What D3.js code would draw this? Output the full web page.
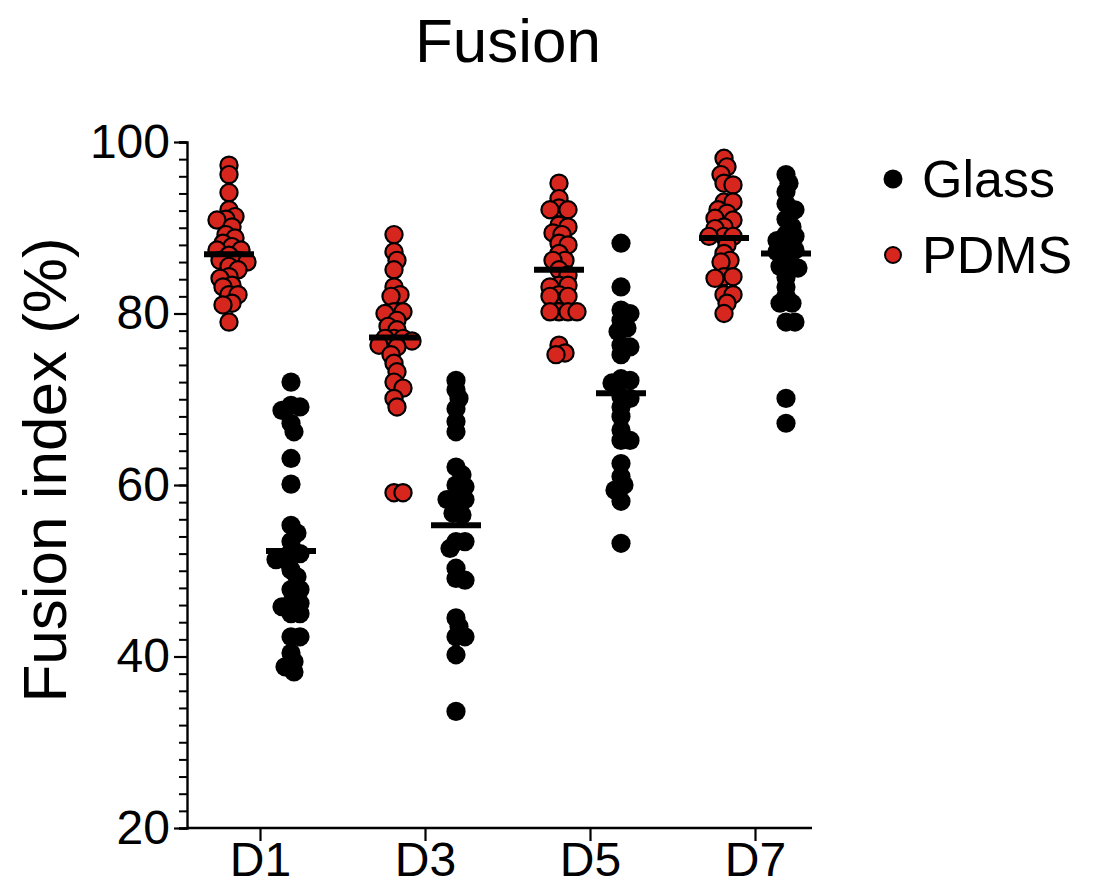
<!DOCTYPE html>
<html>
<head>
<meta charset="utf-8">
<script src="https://cdn.jsdelivr.net/npm/d3@7"></script>
<style>
  html, body { margin: 0; padding: 0; background: #fff; }
  svg { display: block; font-family: "Liberation Sans", Arial, Helvetica, sans-serif; }
</style>
</head>
<body>
<div class="chart"></div>
<script>
// categories / series
const days = ["D1", "D3", "D5", "D7"];
const seriesNames = ["PDMS", "Glass"];
const legendNames = ["Glass", "PDMS"];
const yTicks = [20, 40, 60, 80, 100];

// values (fusion index, %)
const pdmsD1 = [97.3, 96.2, 94.1, 92.1, 91.3, 91.0, 90.1, 90.9, 89.2, 88.8, 88.2, 87.8, 87.4, 87.4, 86.8,
  86.2, 86.2, 86.0, 85.5, 85.1, 84.3, 84.1, 83.1, 83.3, 82.2, 82.2, 81.2, 81.0, 79.0];
const pdmsD3 = [89.2, 87.2, 86.2, 85.1, 83.1, 82.2, 82.0, 80.2, 80.0, 80.2, 78.1, 78.5, 79.2, 77.1, 77.1, 77.1,
  76.8, 76.3, 76.1, 75.2, 74.2, 73.2, 72.0, 71.3, 70.1, 69.1, 59.1, 59.1];
const pdmsD5 = [95.2, 93.4, 92.1, 92.3, 92.1, 90.3, 90.1, 89.2, 89.4, 88.2, 88.0, 87.0, 86.2, 86.2, 85.1,
  84.5, 83.3, 83.3, 83.1, 82.2, 82.0, 82.0, 80.2, 80.2, 80.2, 80.2, 76.3, 75.4, 75.2];
const pdmsD7 = [98.1, 97.1, 96.2, 95.2, 95.0, 93.0, 93.0, 92.1, 91.7, 91.1, 90.9, 89.9, 90.1, 89.0, 89.0, 89.0,
  88.0, 87.0, 86.2, 86.0, 84.3, 84.1, 84.3, 82.2, 82.2, 81.2, 80.0];

const glassD1 = [72.0, 69.1, 69.3, 68.7, 67.2, 66.2, 63.1, 60.1, 55.3, 54.4, 53.4, 52.2, 52.0, 51.3, 51.3,
  50.1, 49.3, 47.8, 47.8, 46.2, 45.8, 46.2, 45.0, 45.0, 42.3, 42.3, 40.4, 39.4, 38.2, 38.8];
const glassD3 = [72.2, 71.1, 70.1, 68.9, 67.4, 66.2, 62.1, 61.2, 60.0, 59.8, 58.3, 58.3, 58.5, 57.5, 56.7,
  56.5, 53.4, 53.4, 52.6, 50.3, 49.1, 48.9, 44.5, 43.5, 42.3, 42.3, 40.2, 33.6];
const glassD5 = [88.2, 83.1, 80.4, 80.0, 79.2, 78.3, 77.9, 76.3, 76.1, 75.2, 72.2, 72.4, 71.9, 70.3, 70.1,
  69.1, 68.0, 66.4, 65.2, 65.2, 62.5, 61.0, 60.0, 59.4, 58.1, 53.2];
const glassD7 = [96.2, 95.2, 94.2, 92.8, 92.1, 91.0, 90.1, 89.2, 89.0, 88.5, 87.4, 87.6, 87.2, 86.5, 85.5,
  85.5, 85.3, 84.2, 83.1, 82.0, 81.2, 81.2, 79.0, 79.0, 70.1, 67.2];

// group means (the horizontal bars)
const pdmsMeans = [86.9, 77.2, 85.1, 88.8];
const glassMeans = [52.3, 55.3, 70.7, 87.0];

const pdmsValues = [pdmsD1, pdmsD3, pdmsD5, pdmsD7];
const glassValues = [glassD1, glassD3, glassD5, glassD7];

const colors = { PDMS: "#d7261e", Glass: "#000000" };

// canvas
const W = 1094, H = 895;
const margin = { top: 142, left: 187 };
const innerW = 625, innerH = 686;

const svg = d3.select(".chart").append("svg")
  .attr("width", W).attr("height", H);
const g = svg.append("g").attr("transform", `translate(${margin.left},${margin.top})`);

const y = d3.scaleLinear().domain([20, 100]).range([innerH, 0]);
const x = d3.scalePoint().domain(days).range([73, 568]);
const sub = d3.scalePoint().domain(seriesNames).range([-31, 31]);

// simple deterministic beeswarm: push each dot sideways until it clears the others
function swarm(vals, cx) {
  const minD = 9, step = 3;
  const pts = vals.map(v => ({ v, y: y(v) })).sort((a, b) => a.y - b.y);
  const placed = [];
  pts.forEach(p => {
    let chosen = null, bestOff = 0, bestGap = -1;
    for (let k = 0; k < 13; k++) {
      const off = (k % 2 ? 1 : -1) * Math.ceil(k / 2) * step;
      const gap = d3.min(placed, q => Math.hypot(q.x - (cx + off), q.y - p.y)) ?? Infinity;
      if (gap >= minD) { chosen = off; break; }
      if (gap > bestGap) { bestGap = gap; bestOff = off; }
    }
    p.x = cx + (chosen === null ? bestOff : chosen);
    placed.push(p);
  });
  return pts;
}

// y axis: minor ticks every 2, labelled major ticks every 20
g.append("g")
  .call(d3.axisLeft(y).tickValues(d3.range(20, 101, 2)).tickSize(8).tickFormat(""))
  .call(a => a.selectAll("line").attr("stroke-width", 2))
  .call(a => a.select(".domain").attr("stroke-width", 2.4));
g.append("g")
  .call(d3.axisLeft(y).tickValues(yTicks).tickSize(13).tickPadding(4))
  .call(a => a.select(".domain").remove())
  .call(a => a.selectAll("line").attr("stroke-width", 2.2))
  .call(a => a.selectAll("text").attr("font-size", 48).attr("fill", "#000")
    .attr("font-family", "Liberation Sans, Arial, sans-serif"));

// x axis
g.append("g")
  .attr("transform", `translate(0,${innerH})`)
  .call(d3.axisBottom(x).tickSize(13).tickPadding(1).tickSizeOuter(0))
  .call(a => a.select(".domain").attr("d", `M0,0H${innerW}`).attr("stroke-width", 2.4))
  .call(a => a.selectAll("line").attr("stroke-width", 2.2))
  .call(a => a.selectAll("text").attr("font-size", 48).attr("fill", "#000")
    .attr("font-family", "Liberation Sans, Arial, sans-serif"));

// dots
const groups = [
  { name: "PDMS", values: pdmsValues, means: pdmsMeans },
  { name: "Glass", values: glassValues, means: glassMeans }
];

groups.forEach(s => {
  days.forEach((day, i) => {
    const cx = x(day) + sub(s.name);
    const pts = swarm(s.values[i], cx);
    g.append("g").selectAll("circle")
      .data(pts)
      .join("circle")
      .attr("cx", d => d.x)
      .attr("cy", d => d.y)
      .attr("r", s.name === "PDMS" ? 8.6 : 9.6)
      .attr("fill", colors[s.name])
      .attr("stroke", "#000")
      .attr("stroke-width", s.name === "PDMS" ? 2.2 : 0);
  });
});

// mean bars
groups.forEach(s => {
  g.append("g").selectAll("line")
    .data(s.means)
    .join("line")
    .attr("x1", (d, i) => x(days[i]) + sub(s.name) - 25)
    .attr("x2", (d, i) => x(days[i]) + sub(s.name) + 25)
    .attr("y1", d => y(d))
    .attr("y2", d => y(d))
    .attr("stroke", "#000")
    .attr("stroke-width", 6);
});

// title
svg.append("text")
  .attr("x", 508).attr("y", 62)
  .attr("text-anchor", "middle")
  .attr("font-size", 62)
  .text("Fusion");

// y label
svg.append("text")
  .attr("transform", "translate(66,470) rotate(-90)")
  .attr("text-anchor", "middle")
  .attr("font-size", 62)
  .text("Fusion index (%)");

// legend
const legend = svg.append("g").attr("transform", "translate(893,179)");
const lg = legend.selectAll("g")
  .data(legendNames)
  .join("g")
  .attr("transform", (d, i) => `translate(0,${i * 76})`);
lg.append("circle")
  .attr("r", d => d === "PDMS" ? 8 : 9.5)
  .attr("fill", d => colors[d])
  .attr("stroke", "#000")
  .attr("stroke-width", d => d === "PDMS" ? 2 : 0);
lg.append("text")
  .attr("x", 29)
  .attr("y", 18)
  .attr("font-size", 52)
  .text(d => d);
</script>
</body>
</html>
